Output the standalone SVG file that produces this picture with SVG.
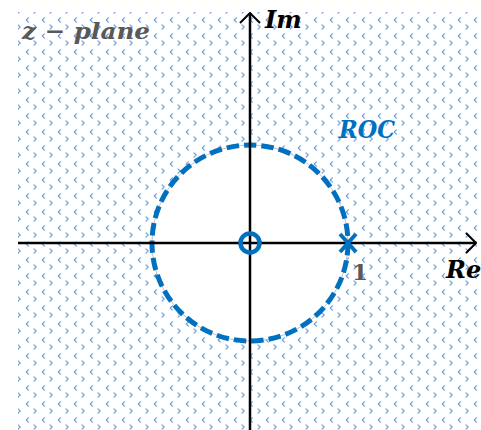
<svg xmlns="http://www.w3.org/2000/svg" width="481" height="430" viewBox="0 0 481 430">
  <style>
    .lbl { font-family: "DejaVu Serif", "Liberation Serif", serif; font-weight: bold; font-style: italic; }
    .num { font-family: "DejaVu Serif", "Liberation Serif", serif; font-weight: bold; }
    .axis { stroke: #000; stroke-width: 2.5; fill: none; }
    .mark { stroke: #0070C0; fill: none; }
    .chev { stroke: #6f9ddc; stroke-width: 1.2; fill: none; stroke-linecap: round; stroke-linejoin: round; }
  </style>
  <defs>
    <pattern id="dots" patternUnits="userSpaceOnUse" x="0" y="0" width="16" height="16">
      <polyline class="chev" points="12.4,1.8 10.2,4 12.4,6.2"/>
      <polyline class="chev" points="2,8.8 4.2,11 2,13.2"/>
    </pattern>
    <marker id="arrow" viewBox="0 0 12 22" refX="11" refY="11" markerWidth="12" markerHeight="22" markerUnits="userSpaceOnUse" orient="auto">
      <polyline points="1,1 11,11 1,21" fill="none" stroke="#000" stroke-width="2"/>
    </marker>
  </defs>
  <rect x="0" y="0" width="481" height="430" fill="#fff"/>
  <g id="plane">
    <rect x="18" y="12" width="463" height="418" fill="url(#dots)"/>
    <circle cx="250" cy="243" r="98" fill="#fff"/>
  </g>
  <g id="roc-boundary">
    <circle cx="250" cy="243" r="98" fill="none" stroke="#c0c0c0" stroke-width="1"/>
    <circle cx="250" cy="243" r="98" fill="none" stroke="#0070C0" stroke-width="5" stroke-dasharray="12.5 5"/>
  </g>
  <g id="connectors">
    <line class="axis" x1="18" y1="243" x2="476" y2="243" marker-end="url(#arrow)"/>
    <line class="axis" x1="250" y1="430" x2="250" y2="13" marker-end="url(#arrow)"/>
  </g>
  <g id="zero">
    <circle class="mark" cx="250" cy="243" r="9.5" stroke-width="4.5"/>
  </g>
  <g id="pole">
    <path class="mark" d="M340,234 L356,252 M356,234 L340,252" stroke-width="4"/>
  </g>
  <g id="labels">
    <text class="lbl" x="22" y="39" font-size="23" fill="#595959" textLength="128" lengthAdjust="spacingAndGlyphs">z − plane</text>
    <text class="lbl" x="265" y="28" font-size="24" fill="#000">Im</text>
    <text class="lbl" x="339" y="138" font-size="24" fill="#0070C0" textLength="56" lengthAdjust="spacingAndGlyphs">ROC</text>
    <text class="num" x="352" y="280" font-size="23" fill="#595959">1</text>
    <text class="lbl" x="446" y="278" font-size="24" fill="#000">Re</text>
  </g>
</svg>
